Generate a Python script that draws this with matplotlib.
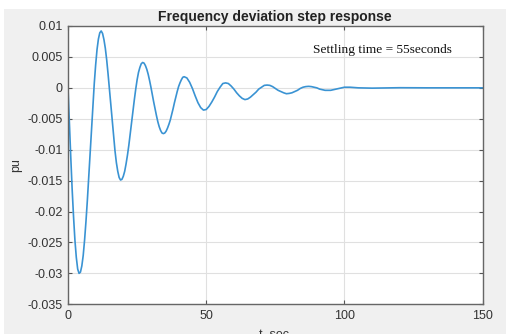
import matplotlib
matplotlib.use("Agg")
import matplotlib.pyplot as plt
from matplotlib.patches import Rectangle

# time (s) and frequency deviation (pu)
t_sec = [0, 0.5, 1, 1.5, 2, 2.5, 3, 3.5, 4, 4.5, 5, 5.5, 6, 6.5, 7, 7.5, 8, 8.5, 9, 9.5,
         10, 10.5, 11, 11.5, 12, 12.5, 13, 13.5, 14, 14.5, 15, 15.5, 16, 16.5, 17, 17.5, 18, 18.5, 19, 19.5,
         20, 20.5, 21, 21.5, 22, 22.5, 23, 23.5, 24, 24.5, 25, 25.5, 26, 26.5, 27, 27.5, 28, 28.5, 29, 29.5,
         30, 30.5, 31, 31.5, 32, 32.5, 33, 33.5, 34, 34.5, 35, 35.5, 36, 36.5, 37, 37.5, 38, 38.5, 39, 39.5,
         40, 40.5, 41, 41.5, 42, 43, 44, 45, 46, 47, 48, 49, 50, 51, 52, 53, 54, 55, 56, 57, 58, 59,
         60, 61, 62, 63, 64, 65, 66, 67, 68, 69, 70, 71, 72, 73, 74, 75, 76, 77, 78, 79,
         80, 81, 82, 83, 84, 85, 86, 87, 88, 89, 90, 91, 92, 93, 94, 95, 96, 97, 98, 99,
         100, 101, 102, 105, 110, 120, 130, 140, 150]
deviation = [0.0, -0.0057, -0.0112, -0.0164, -0.0208, -0.0246, -0.0274, -0.0293, -0.0300, -0.0298,
             -0.0288, -0.0271, -0.0246, -0.0216, -0.0182, -0.0144, -0.0105, -0.0065, -0.0027, 0.0007,
             0.0037, 0.0062, 0.0079, 0.0089, 0.0092, 0.0088, 0.0078, 0.0064, 0.0045, 0.0022,
             -0.0003, -0.0029, -0.0055, -0.0079, -0.0102, -0.0121, -0.0135, -0.0145, -0.0149, -0.0148,
             -0.0143, -0.0135, -0.0123, -0.0109, -0.0093, -0.0075, -0.0056, -0.0037, -0.0019, -0.0002,
             0.0013, 0.0025, 0.0033, 0.0039, 0.0041, 0.0040, 0.0036, 0.0030, 0.0022, 0.0012,
             0.0001, -0.0011, -0.0023, -0.0034, -0.0045, -0.0055, -0.0063, -0.0069, -0.0073, -0.0074,
             -0.0073, -0.0070, -0.0065, -0.0059, -0.0052, -0.0043, -0.0034, -0.0024, -0.0015, -0.0006,
             0.0002, 0.0008, 0.0013, 0.0017, 0.0018, 0.0016, 0.0009, -0.0001, -0.0013, -0.0024, -0.0032, -0.0036,
             -0.0035, -0.0030, -0.0023, -0.0015, -0.0006, 0.0001, 0.0007, 0.0008, 0.0007, 0.0003,
             -0.0002, -0.0008, -0.0013, -0.0017, -0.0019, -0.0018, -0.0015, -0.0011, -0.0007, -0.0002,
             0.0001, 0.0004, 0.00045, 0.0004, 0.0002, -0.0001, -0.0004, -0.0006, -0.0008, -0.00095,
             -0.0009, -0.0008, -0.0006, -0.0004, -0.0001, 0.0001, 0.0002, 0.00024, 0.0002, 0.0001,
             0.0, -0.0002, -0.0003, -0.0004, -0.0004, -0.0004, -0.0003, -0.0002, -0.0001, 0.0,
             0.0001, 0.0001, 0.0001, 0.0, -0.00005, 0.00002, 0.0, 0.0, 0.0]

x_ticks = [0, 50, 100, 150]
y_ticks = [0.01, 0.005, 0, -0.005, -0.01, -0.015, -0.02, -0.025, -0.03, -0.035]
y_tick_labels = ["0.01", "0.005", "0", "-0.005", "-0.01", "-0.015", "-0.02", "-0.025", "-0.03", "-0.035"]

W, H = 517, 334
fig = plt.figure(figsize=(W / 100, H / 100), dpi=100, facecolor="white")
fig.patches.append(Rectangle((4 / W, 0), 502 / W, (H - 9) / H, transform=fig.transFigure,
                             facecolor="#f0f0f0", edgecolor="none", zorder=-10))

ax = fig.add_axes([68 / W, 1 - 304.3 / H, 414.7 / W, 278.3 / H])
ax.set_facecolor("white")
ax.plot(t_sec, deviation, color="#3a93d3", linewidth=1.2)

ax.set_xlim(0, 150)
ax.set_ylim(-0.035, 0.01)
ax.set_xticks(x_ticks)
ax.set_yticks(y_ticks)
ax.set_yticklabels(y_tick_labels)
ax.grid(True, color="#e0e0e0", linewidth=0.8)
ax.set_axisbelow(True)
ax.tick_params(direction="in", length=3, width=0.8, colors="#555555", labelcolor="#333333",
               labelsize=9, top=True, right=True, pad=4)
for spine in ax.spines.values():
    spine.set_color("#666666")
    spine.set_linewidth(1.0)

for lbl in ax.get_xticklabels() + ax.get_yticklabels():
    lbl.set_family("Liberation Sans")

fig.text(275 / W, 1 - 17 / H, "Frequency deviation step response", ha="center", va="center",
         fontsize=10, fontweight="bold", family="Liberation Sans", color="#222222")
fig.text(16 / W, 1 - 165 / H, "pu", rotation=90, ha="center", va="center",
         fontsize=9, family="Liberation Sans", color="#333333")
fig.text(274 / W, 1 - 335.5 / H, "t, sec", ha="center", va="center",
         fontsize=9, family="Liberation Sans", color="#333333")
ax.text(88.6, 0.0061, "Settling time = 55seconds", ha="left", va="center",
        fontsize=9.6, family="Liberation Serif", color="#111111")

fig.savefig("out.png", dpi=100, facecolor=fig.get_facecolor())
